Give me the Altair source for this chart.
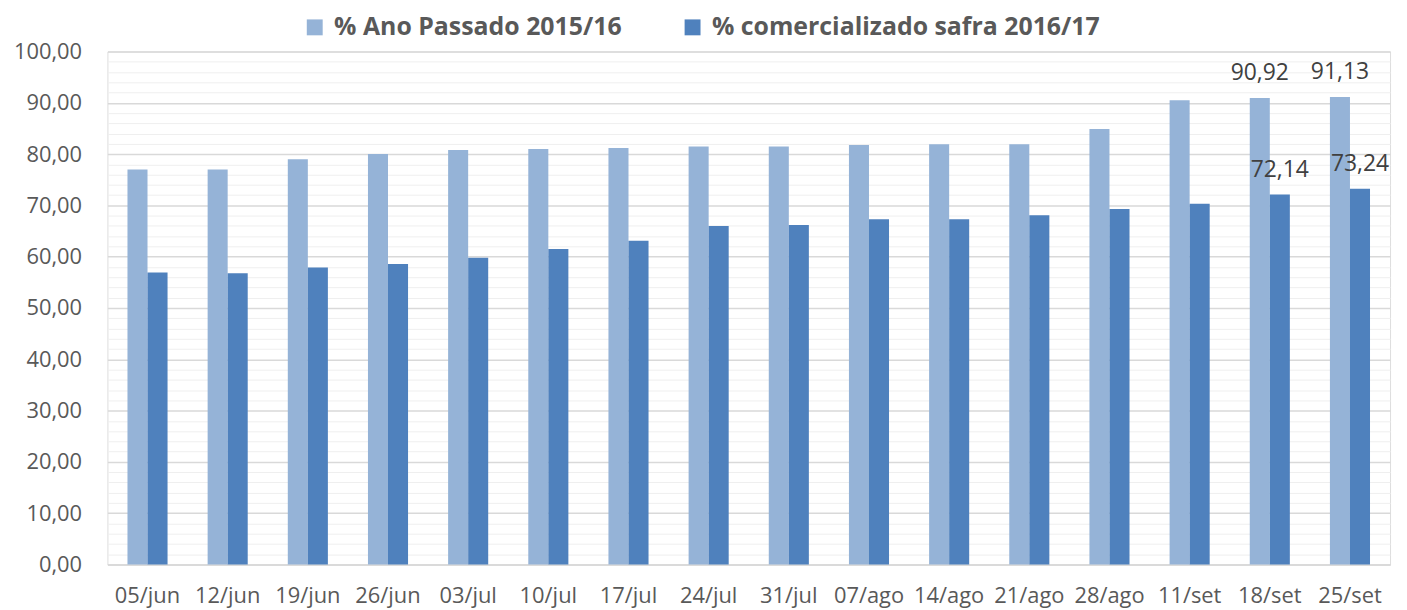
import altair as alt
import pandas as pd

categorias = ["05/jun", "12/jun", "19/jun", "26/jun", "03/jul", "10/jul", "17/jul", "24/jul",
              "31/jul", "07/ago", "14/ago", "21/ago", "28/ago", "11/set", "18/set", "25/set"]
ano_passado = [77.0, 77.0, 79.0, 80.0, 80.8, 81.0, 81.2, 81.5,
               81.5, 81.75, 81.9, 81.9, 84.9, 90.5, 90.92, 91.13]
safra = [56.9, 56.75, 57.9, 58.6, 59.8, 61.5, 63.1, 66.0,
         66.2, 67.3, 67.3, 68.1, 69.3, 70.3, 72.14, 73.24]
series_names = ["% Ano Passado 2015/16", "% comercializado safra 2016/17"]
cores = ["#95b3d7", "#4f81bd"]
rotulos = ["18/set", "25/set"]

rows = []
for c, a, s in zip(categorias, ano_passado, safra):
    rows.append({"categoria": c, "serie": series_names[0], "valor": a})
    rows.append({"categoria": c, "serie": series_names[1], "valor": s})
df = pd.DataFrame(rows)

FONT = "Open Sans"

x_enc = alt.X("categoria:N", sort=categorias,
              scale=alt.Scale(paddingInner=0.5, paddingOuter=0.25),
              axis=alt.Axis(title=None, labelAngle=0, ticks=False, domain=True,
                            domainColor="#d9d9d9", domainWidth=1.5,
                            labelFontSize=22, labelColor="#595959", labelFont=FONT,
                            labelPadding=21, grid=False))
xoff_enc = alt.XOffset("serie:N", sort=series_names,
                       scale=alt.Scale(paddingInner=0, paddingOuter=0))
y_enc = alt.Y("valor:Q", scale=alt.Scale(domain=[0, 100], nice=False),
              axis=alt.Axis(title=None, values=list(range(0, 101, 2)),
                            labelExpr="datum.value % 10 === 0 ? replace(format(datum.value, '.2f'), '.', ',') : ''",
                            ticks=False, domain=False, labelFontSize=22,
                            labelColor="#595959", labelFont=FONT, labelPadding=26,
                            gridColor={"condition": {"test": "datum.value % 10 === 0", "value": "#d9d9d9"},
                                       "value": "#efefef"},
                            gridWidth={"condition": {"test": "datum.value % 10 === 0", "value": 1.5},
                                       "value": 1}))

base = alt.Chart(df)

bars = base.mark_bar().encode(
    x=x_enc,
    xOffset=xoff_enc,
    y=y_enc,
    color=alt.Color("serie:N", sort=series_names,
                    scale=alt.Scale(domain=series_names, range=cores),
                    legend=alt.Legend(title=None, orient="none", legendX=196, legendY=-37,
                                      direction="horizontal", symbolType="square",
                                      symbolSize=256, symbolStrokeWidth=0,
                                      labelFontSize=25, labelFontWeight="bold",
                                      labelColor="#595959", labelFont=FONT,
                                      columnPadding=58, labelOffset=7, labelLimit=0,
                                      padding=0)),
)

text = base.transform_filter(
    alt.FieldOneOfPredicate(field="categoria", oneOf=rotulos)
).transform_calculate(
    rotulo="replace(format(datum.valor, '.2f'), '.', ',')"
).mark_text(dy=-18, baseline="alphabetic", fontSize=23, color="#404040", font=FONT).encode(
    x=x_enc,
    xOffset=xoff_enc,
    y=y_enc,
    text="rotulo:N",
)

chart = alt.layer(bars, text).properties(
    width=1290, height=516,
    padding={"left": 100, "top": 42, "right": 9, "bottom": 44},
    autosize=alt.AutoSizeParams(type="none"),
).configure_view(stroke=None).configure(font=FONT)

chart.save("out.html", embed_options={"renderer": "svg", "actions": False})
